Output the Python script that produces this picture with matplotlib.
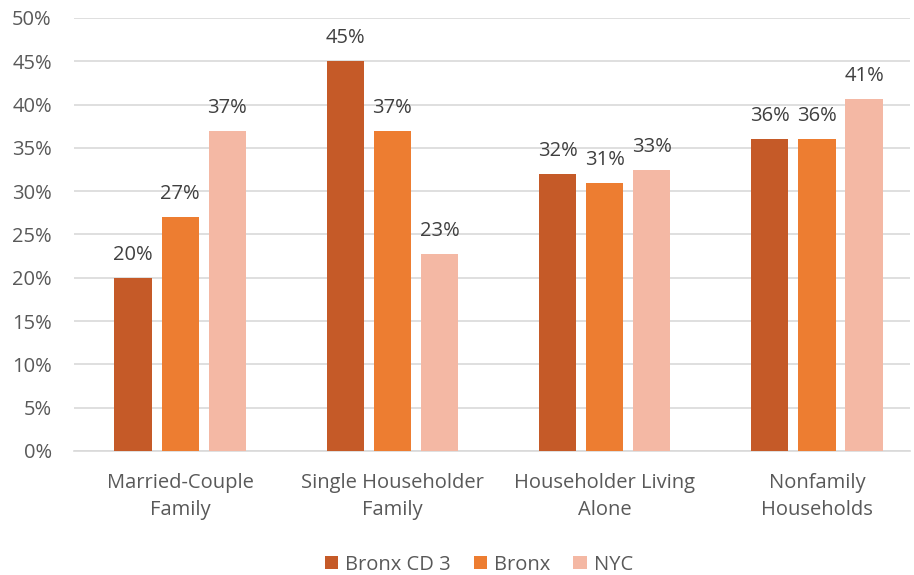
import matplotlib.pyplot as plt
import numpy as np

plt.rcParams['font.family'] = ['Open Sans', 'DejaVu Sans']

categories = ["Married-Couple\nFamily", "Single Householder\nFamily",
              "Householder Living\nAlone", "Nonfamily\nHouseholds"]
series_names = ["Bronx CD 3", "Bronx", "NYC"]
cd3 = [20.0, 45.0, 32.0, 36.0]
bronx = [27.0, 37.0, 31.0, 36.0]
nyc = [36.9, 22.8, 32.5, 40.6]
labels_cd3 = ["20%", "45%", "32%", "36%"]
labels_bronx = ["27%", "37%", "31%", "36%"]
labels_nyc = ["37%", "23%", "33%", "41%"]
colors = ["#C55A28", "#ED7D31", "#F4B8A4"]

fig = plt.figure(figsize=(9.14, 5.75), dpi=100)
ax = fig.add_axes([0.081, 0.2157, 0.915, 0.753])

x = np.arange(len(categories))
width = 0.175
step = 0.222
txt = "#404040"
fs = 14.5
for i, (vals, labs) in enumerate(zip([cd3, bronx, nyc], [labels_cd3, labels_bronx, labels_nyc])):
    pos = x + (i - 1) * step
    ax.bar(pos, vals, width, color=colors[i], label=series_names[i], zorder=3)
    for p, v, l in zip(pos, vals, labs):
        ax.text(p, v + 1.5, l, ha="center", va="bottom", fontsize=fs, color=txt)

ax.set_ylim(0, 50)
ax.set_xlim(-0.5, 3.44)
ax.set_yticks(np.arange(0, 51, 5))
ax.set_yticklabels([f"{t}%" for t in range(0, 51, 5)])
ax.set_xticks(x)
ax.set_xticklabels(categories, linespacing=1.45)
ax.grid(axis="y", color="#D9D9D9", linewidth=1.2, zorder=0)
for s in ["top", "right", "left"]:
    ax.spines[s].set_visible(False)
ax.spines["bottom"].set_color("#D9D9D9")
ax.spines["bottom"].set_linewidth(1.2)
ax.tick_params(axis="both", length=0, labelsize=fs, labelcolor="#595959")
ax.tick_params(axis="x", pad=16)
ax.tick_params(axis="y", pad=16)

ax.legend(loc="upper center", bbox_to_anchor=(0.484, -0.198), ncol=3, frameon=False,
          fontsize=fs, labelcolor="#595959", handlelength=0.65, handleheight=0.65,
          columnspacing=1.15, handletextpad=0.35)

fig.savefig("out.png", dpi=100)
